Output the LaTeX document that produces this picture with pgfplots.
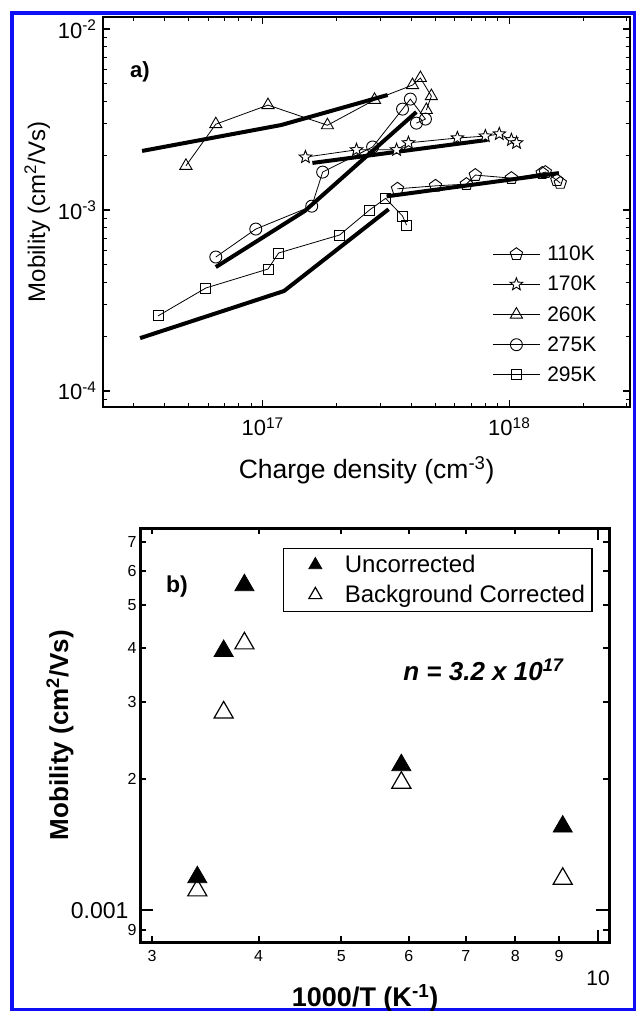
\documentclass[border=0pt]{standalone}
\usepackage{fontspec}
\setmainfont{Liberation Sans}
\usepackage{pgfplots}
\pgfplotsset{compat=1.18}
\usetikzlibrary{plotmarks}
\definecolor{bordercol}{RGB}{15,15,245}
\newcommand{\fs}[1]{\fontsize{#1}{#1}\selectfont}
\pgfdeclareplotmark{ostar}{%
  \pgfpathmoveto{\pgfqpointpolar{90}{1.1\pgfplotmarksize}}%
  \pgfpathlineto{\pgfqpointpolar{126}{0.47\pgfplotmarksize}}%
  \pgfpathlineto{\pgfqpointpolar{162}{1.1\pgfplotmarksize}}%
  \pgfpathlineto{\pgfqpointpolar{198}{0.47\pgfplotmarksize}}%
  \pgfpathlineto{\pgfqpointpolar{234}{1.1\pgfplotmarksize}}%
  \pgfpathlineto{\pgfqpointpolar{270}{0.47\pgfplotmarksize}}%
  \pgfpathlineto{\pgfqpointpolar{306}{1.1\pgfplotmarksize}}%
  \pgfpathlineto{\pgfqpointpolar{342}{0.47\pgfplotmarksize}}%
  \pgfpathlineto{\pgfqpointpolar{18}{1.1\pgfplotmarksize}}%
  \pgfpathlineto{\pgfqpointpolar{54}{0.47\pgfplotmarksize}}%
  \pgfpathclose
  \pgfusepathqfillstroke
}

\begin{document}
\begin{tikzpicture}
\useasboundingbox (0pt,0pt) rectangle (635pt,-1011pt);
\draw[bordercol, line width=4pt] (11.5pt,-13pt) rectangle (634.5pt,-1010pt);

% ---------------- panel a ----------------
\begin{axis}[
  at={(103pt,-17pt)}, anchor=north west, scale only axis,
  width=527pt, height=390pt,
  xmode=log, ymode=log,
  xmin=2.25e16, xmax=3.09e18, ymin=8.16e-5, ymax=1.165e-2,
  axis line style={line width=2pt},
  tick align=inside,
  major tick length=7pt, minor tick length=4pt,
  major tick style={line width=1.3pt, black},
  minor tick style={line width=1pt, black},
  xtick={1e17,1e18},
  xticklabels={10\textsuperscript{17},10\textsuperscript{18}},
  minor xtick={3e16,4e16,5e16,6e16,7e16,8e16,9e16,2e17,3e17,4e17,5e17,6e17,7e17,8e17,9e17,2e18,3e18},
  ytick={1e-4,1e-3,1e-2},
  yticklabels={10\textsuperscript{-4},10\textsuperscript{-3},10\textsuperscript{-2}},
  minor ytick={9e-5,2e-4,3e-4,4e-4,5e-4,6e-4,7e-4,8e-4,9e-4,2e-3,3e-3,4e-3,5e-3,6e-3,7e-3,8e-3,9e-3},
  tick label style={font=\fs{22}},
  xticklabel style={yshift=-7pt},
  yticklabel style={xshift=-3pt},
  xlabel={Charge density (cm\textsuperscript{-3})},
  xlabel style={at={(axis description cs:0.5,-0.162)}, anchor=center, font=\fs{26.5}},
  ylabel={Mobility (cm\textsuperscript{2}/Vs)},
  ylabel style={at={(axis description cs:-0.1248,0.5)}, anchor=center, font=\fs{24}},
  legend style={at={(rel axis cs:0.7386,0.413)}, anchor=north west, draw=none, fill=none,
     font=\fs{21}, inner sep=0pt, nodes={inner sep=0pt}, row sep=14pt, column sep=7pt},
  legend cell align=left,
  legend image code/.code={\draw[mark repeat=2,mark phase=2,#1] plot coordinates {(0pt,0pt)(23.5pt,0pt)(47pt,0pt)};},
]
% data series (thin connectors, open markers)
\addplot[black, line width=0.8pt, mark=pentagon, mark size=6.5, mark options={fill=white, line width=0.9pt}]
  coordinates {(3.52e17,1.31e-3)(5.02e17,1.36e-3)(6.70e17,1.39e-3)(7.28e17,1.56e-3)(1.02e18,1.50e-3)(1.36e18,1.60e-3)(1.40e18,1.62e-3)(1.56e18,1.46e-3)(1.61e18,1.41e-3)};
\addlegendentry{110K}
\addplot[black, line width=0.8pt, mark=ostar, mark size=6, mark options={fill=white, line width=0.9pt}]
  coordinates {(1.49e17,1.96e-3)(2.40e17,2.15e-3)(3.49e17,2.15e-3)(3.90e17,2.35e-3)(6.16e17,2.50e-3)(8.00e17,2.56e-3)(9.11e17,2.63e-3)(1.02e18,2.44e-3)(1.07e18,2.35e-3)};
\addlegendentry{170K}
\addplot[black, line width=0.8pt, mark=triangle, mark size=7, mark options={fill=white, line width=0.9pt}]
  coordinates {(4.88e16,1.755e-3)(6.45e16,2.98e-3)(1.05e17,3.80e-3)(1.83e17,2.94e-3)(2.84e17,4.06e-3)(4.05e17,4.90e-3)(4.36e17,5.36e-3)(4.83e17,4.26e-3)(4.61e17,3.57e-3)};
\addlegendentry{260K}
\addplot[black, line width=0.8pt, mark=o, mark size=6, mark options={fill=white, line width=0.9pt}]
  coordinates {(6.45e16,5.50e-4)(9.37e16,7.85e-4)(1.58e17,1.05e-3)(1.75e17,1.62e-3)(2.79e17,2.23e-3)(3.69e17,3.61e-3)(3.97e17,4.10e-3)(4.57e17,3.18e-3)(4.20e17,3.02e-3)};
\addlegendentry{275K}
\addplot[black, line width=0.8pt, mark=square, mark size=5, mark options={fill=white, line width=0.9pt}]
  coordinates {(3.76e16,2.60e-4)(5.88e16,3.71e-4)(1.05e17,4.72e-4)(1.16e17,5.79e-4)(2.05e17,7.28e-4)(2.71e17,1.00e-3)(3.15e17,1.16e-3)(3.69e17,9.27e-4)(3.83e17,8.26e-4)};
\addlegendentry{295K}
% fit lines (thick)
\addplot[black, line width=4pt, no marks, forget plot] coordinates {(3.18e17,1.19e-3)(1.59e18,1.60e-3)};
\addplot[black, line width=4pt, no marks, forget plot] coordinates {(1.59e17,1.82e-3)(8.15e17,2.44e-3)};
\addplot[black, line width=4pt, no marks, forget plot] coordinates {(3.24e16,2.12e-3)(1.19e17,2.95e-3)(3.21e17,4.32e-3)};
\addplot[black, line width=4pt, no marks, forget plot] coordinates {(6.45e16,4.84e-4)(1.48e17,9.87e-4)(4.20e17,3.48e-3)};
\addplot[black, line width=4pt, no marks, forget plot] coordinates {(3.18e16,1.96e-4)(1.22e17,3.57e-4)(3.24e17,1.01e-3)};
\node[font=\fs{22}\bfseries] at (rel axis cs:0.07,0.859) {a)};
\end{axis}

% ---------------- panel b ----------------
\begin{axis}[
  at={(140pt,-528pt)}, anchor=north west, scale only axis,
  width=469pt, height=414pt,
  xmode=log, ymode=log,
  xmin=2.904, xmax=10.30, ymin=8.45e-4, ymax=7.52e-3,
  axis line style={line width=3pt},
  tick align=inside,
  major tick length=6pt, minor tick length=0pt,
  major tick style={line width=2pt, black},
  xtick={3,4,5,6,7,8,9},
  xticklabels={3,4,5,6,7,8,9},
  minor xtick={3,4,5,6,7,8,9},
  ytick={9e-4,2e-3,3e-3,4e-3,5e-3,6e-3,7e-3},
  yticklabels={9,2,3,4,5,6,7},
  minor ytick={9e-4,2e-3,3e-3,4e-3,5e-3,6e-3,7e-3},
  tick label style={font=\fs{16}},
  xticklabel style={yshift=-5pt},
  extra x ticks={10}, extra x tick labels={10},
  extra x tick style={major tick length=12pt, xticklabel style={font=\fs{21}, yshift=-20pt}},
  extra y ticks={1e-3}, extra y tick labels={0.001},
  extra y tick style={major tick length=13pt, yticklabel style={font=\fs{23}, xshift=-8pt}},
  xlabel={\bfseries 1000/T (K\textsuperscript{-1})},
  xlabel style={at={(axis description cs:0.48,-0.135)}, anchor=center, font=\fs{27}},
  ylabel={\bfseries Mobility (cm\textsuperscript{2}/Vs)},
  ylabel style={at={(axis description cs:-0.1706,0.5)}, anchor=center, font=\fs{26}},
  legend style={at={(rel axis cs:0.305,0.952)}, anchor=north west, draw=black, line width=1.3pt,
     fill=white, font=\fs{24}, inner xsep=5pt, inner ysep=5pt, row sep=7pt, column sep=21pt,
     nodes={inner xsep=2pt}},
  legend cell align=left,
  legend image code/.code={\path (0pt,0pt); \draw[#1, mark size=7.5pt] plot coordinates {(26pt,0pt)};},
]
\addplot[only marks, mark=triangle*, mark size=11, mark options={fill=black, draw=black, line width=0.8pt}]
  coordinates {(3.39,1.19e-3)(3.64,3.93e-3)(3.85,5.56e-3)(5.88,2.15e-3)(9.09,1.555e-3)};
\addlegendentry{Uncorrected}
\addplot[only marks, mark=triangle, mark size=11, mark options={fill=white, draw=black, line width=1.2pt}]
  coordinates {(3.39,1.11e-3)(3.64,2.84e-3)(3.85,4.09e-3)(5.88,1.96e-3)(9.09,1.18e-3)};
\addlegendentry{Background Corrected}
\node[font=\fs{23}\bfseries] at (rel axis cs:0.0789,0.8575) {b)};
\node[font=\fs{26}\bfseries\itshape, anchor=west] at (rel axis cs:0.554,0.657) {n = 3.2 x 10\textsuperscript{17}};
\end{axis}
\end{tikzpicture}
\end{document}
